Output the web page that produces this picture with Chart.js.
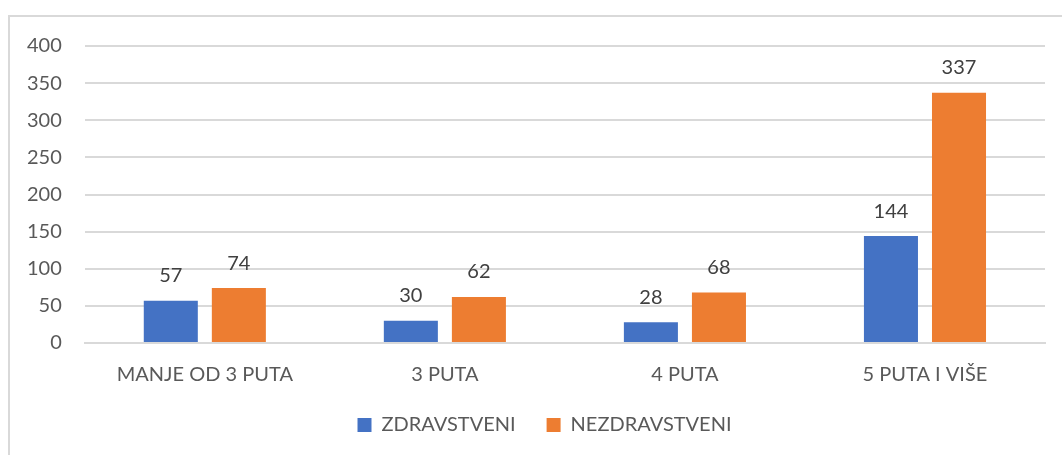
<!DOCTYPE html>
<html>
<head>
<meta charset="utf-8">
<script src="https://cdn.jsdelivr.net/npm/chart.js@4.4.0/dist/chart.umd.min.js"></script>
<style>
  html, body { margin: 0; padding: 0; background: #fff; }
  #wrap { position: relative; width: 1062px; height: 455px; overflow: hidden; }
  #frame { position: absolute; left: 8px; top: 15px; width: 1080px; height: 470px;
           border: 2px solid #d9d9d9; box-sizing: border-box; }
  #box { position: absolute; left: 0; top: 0; width: 1062px; height: 455px; }
</style>
</head>
<body>
<div id="wrap">
  <div id="frame"></div>
  <div id="box"><canvas id="myBarChart"></canvas></div>
</div>
<script>
// podaci
const categories = ['MANJE OD 3 PUTA', '3 PUTA', '4 PUTA', '5 PUTA I VIŠE'];
const zdravstveni = [57, 30, 28, 144];
const nezdravstveni = [74, 62, 68, 337];
const yTicks = [0, 50, 100, 150, 200, 250, 300, 350, 400];

const FONT = 'Lato, "Noto Sans", sans-serif';

// natpisi iznad stupaca
const valueLabels = {
    id: 'valueLabels',
    afterDatasetsDraw(chart) {
        const c = chart.ctx;
        c.save();
        c.font = '20px ' + FONT;
        c.fillStyle = '#404040';
        c.textAlign = 'center';
        c.textBaseline = 'bottom';
        chart.data.datasets.forEach((ds, i) => {
            chart.getDatasetMeta(i).data.forEach((bar, j) => {
                c.fillText(ds.data[j], bar.x, bar.y - 15);
            });
        });
        c.restore();
    }
};

// legenda zauzima manje mjesta u rasporedu, a crta se malo više i udesno
const LEGEND_CUT = 23;
const legendShift = {
    id: 'legendShift',
    afterInit(chart) {
        const lg = chart.legend;
        const fit = lg.fit;
        lg.fit = function () { fit.call(this); this.height -= LEGEND_CUT; };
    },
    afterLayout(chart) {
        const lg = chart.legend;
        lg.top -= LEGEND_CUT;
        lg.height += LEGEND_CUT;
        lg.left += 20; lg.right += 20;
    }
};

const ctx = document.getElementById('myBarChart').getContext('2d');
const myBarChart = new Chart(ctx, {
    type: 'bar',
    data: {
        labels: categories,
        datasets: [
            { label: 'ZDRAVSTVENI', data: zdravstveni, backgroundColor: '#4472c4' },
            { label: 'NEZDRAVSTVENI', data: nezdravstveni, backgroundColor: '#ed7d31' }
        ]
    },
    options: {
        responsive: true,
        maintainAspectRatio: false,
        animation: false,
        categoryPercentage: 0.567,
        barPercentage: 0.794,
        layout: { padding: { left: 4, right: 17, top: 46, bottom: 10 } },
        scales: {
            y: {
                min: 0, max: 400,
                afterBuildTicks: (s) => { s.ticks = yTicks.map(v => ({ value: v })); },
                grid: { color: '#d9d9d9', lineWidth: 2, drawTicks: false },
                border: { display: false },
                ticks: { color: '#595959', font: { family: FONT, size: 20 }, padding: 23 }
            },
            x: {
                grid: { display: false, drawTicks: false },
                border: { color: '#d9d9d9', width: 2 },
                ticks: { color: '#595959', font: { family: FONT, size: 20 }, padding: 20 }
            }
        },
        plugins: {
            legend: {
                position: 'bottom',
                labels: {
                    boxWidth: 14, boxHeight: 14, padding: 31,
                    color: '#595959', font: { family: FONT, size: 20 }
                }
            },
            tooltip: { enabled: false }
        }
    },
    plugins: [valueLabels, legendShift]
});
</script>
</body>
</html>
